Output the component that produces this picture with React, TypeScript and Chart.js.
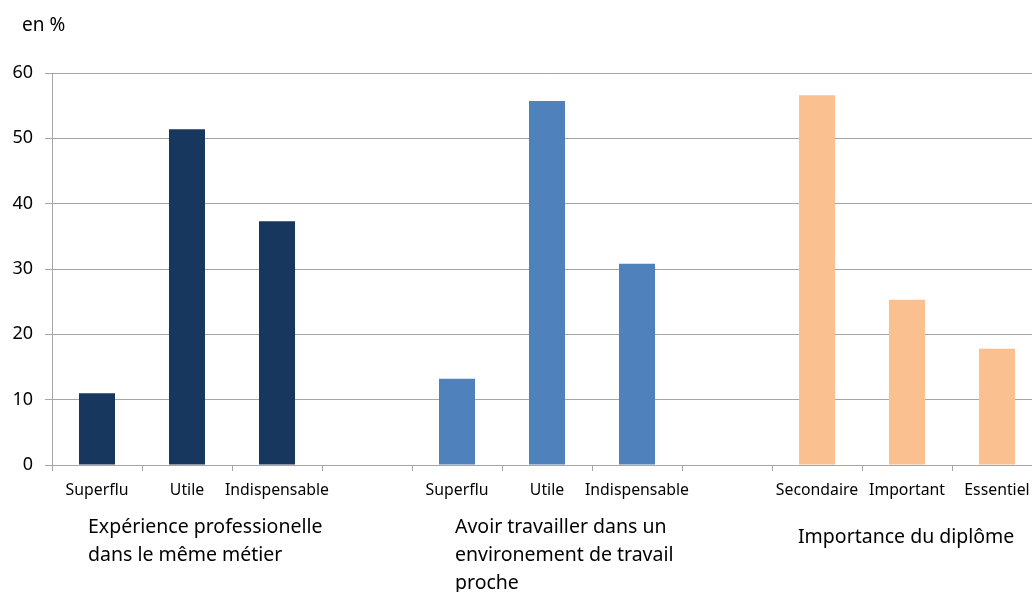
import React, { useEffect, useRef } from "react";
import { Chart, registerables } from "chart.js";
Chart.register(...registerables);

const categories = ["Superflu", "Utile", "Indispensable", "", "Superflu", "Utile", "Indispensable", "", "Secondaire", "Important", "Essentiel"];
const experienceValues = [11.0, 51.4, 37.3];
const environnementValues = [13.2, 55.7, 30.8];
const diplomeValues = [56.6, 25.3, 17.8];
const groupLabels = [
  ["Expérience professionelle", "dans le même métier"],
  ["Avoir travailler dans un", "environement de travail", "proche"],
  ["Importance du diplôme"],
];
const groupStartIndex = [0, 4, 8];
const yTicks = [0, 10, 20, 30, 40, 50, 60];
const yUnit = "en %";

const FONT = "'Noto Sans', 'Open Sans', sans-serif";
const colors = ["#17375e", "#4f81bd", "#fac090"];

export default function App() {
  const ref = useRef<HTMLCanvasElement | null>(null);
  useEffect(() => {
    if (!ref.current) return;
    const data = [...experienceValues, null, ...environnementValues, null, ...diplomeValues];
    const bg = [
      ...experienceValues.map(() => colors[0]), "transparent",
      ...environnementValues.map(() => colors[1]), "transparent",
      ...diplomeValues.map(() => colors[2]),
    ];
    const labelPlugin = {
      id: "groupLabels",
      afterDraw(chart: any) {
        const ctx = chart.ctx;
        const xs = chart.scales.x;
        const bottom = chart.chartArea.bottom;
        const dx = [-9, -2, -19];
        const dy = [62, 62, 72];
        ctx.save();
        ctx.fillStyle = "#000";
        ctx.textAlign = "left";
        ctx.textBaseline = "middle";
        ctx.font = `19.5px ${FONT}`;
        groupLabels.forEach((lines, g) => {
          const x = xs.getPixelForValue(groupStartIndex[g]) + dx[g];
          lines.forEach((t, i) => ctx.fillText(t, x, bottom + dy[g] + i * 28));
        });
        ctx.font = `19px ${FONT}`;
        ctx.fillText(yUnit, 22, 26);
        ctx.restore();
      },
    };
    const chart = new Chart(ref.current, {
      type: "bar",
      data: {
        labels: categories,
        datasets: [{ data, backgroundColor: bg, barPercentage: 0.4, categoryPercentage: 1 }],
      },
      options: {
        responsive: false,
        animation: false,
        layout: { padding: { top: 73, right: 8, left: 0, bottom: 0 } },
        plugins: { legend: { display: false }, tooltip: { enabled: false } },
        scales: {
          x: {
            grid: { drawOnChartArea: false, tickLength: 6, color: "#a6a6a6", offset: true },
            border: { display: false },
            ticks: { autoSkip: false, maxRotation: 0, minRotation: 0, color: "#000", font: { family: FONT, size: 15.8 }, padding: 10 },
            afterFit: (s: any) => { s.height = 127; },
          },
          y: {
            min: 0,
            max: 60,
            afterBuildTicks: (s: any) => { s.ticks = yTicks.map((v) => ({ value: v })); },
            ticks: { color: "#000", font: { family: FONT, size: 18 }, padding: 12 },
            grid: { color: "#a6a6a6", tickLength: 7 },
            border: { color: "#a6a6a6" },
            afterFit: (s: any) => { s.width = 52; },
          },
        },
      },
      plugins: [labelPlugin],
    });
    return () => chart.destroy();
  }, []);
  return (
    <div style={{ position: "fixed", left: 0, top: 0, width: 1032, height: 592, overflow: "hidden", background: "#fff" }}>
      <canvas ref={ref} width={1050} height={592} style={{ display: "block" }} />
    </div>
  );
}
